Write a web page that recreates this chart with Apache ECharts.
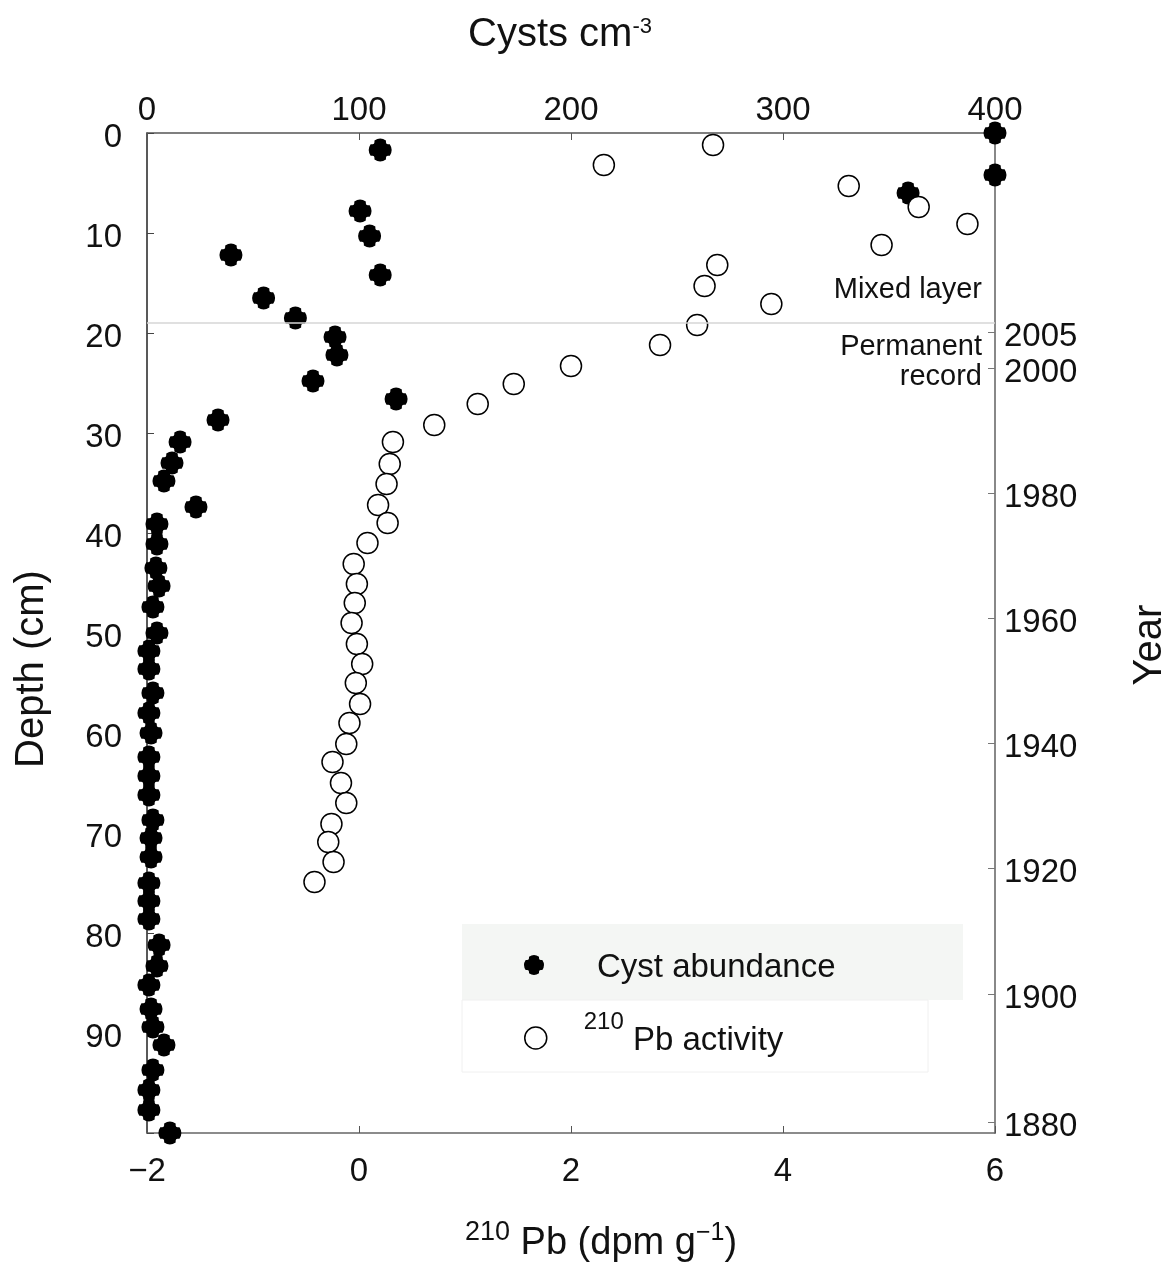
<!DOCTYPE html>
<html>
<head>
<meta charset="utf-8">
<script src="https://cdn.jsdelivr.net/npm/echarts@6/dist/echarts.min.js"></script>
<style>
  html, body { margin: 0; padding: 0; background: #fff; }
  #chart { width: 1168px; height: 1278px; }
</style>
</head>
<body>
<div id="chart"></div>
<script>
// cyst abundance (top axis, cysts cm-3) against depth (cm)
var cystDepth = [0, 1.7, 4.2, 6.0, 7.8, 10.3, 12.2, 14.2, 16.5, 18.5,
                 20.4, 22.2, 24.8, 26.6, 28.7, 30.9, 33.0, 34.8, 37.4, 39.1,
                 41.1, 43.5, 45.3, 47.4, 50.0, 51.8, 53.6, 56.0, 58.0, 60.0,
                 62.4, 64.3, 66.2, 68.7, 70.5, 72.4, 75.0, 76.8, 78.6, 81.2,
                 83.3, 85.2, 87.6, 89.4, 91.2, 93.7, 95.7, 97.7, 100];
var cystCount = [400, 110, 400, 359, 100.5, 105, 39.6, 110, 55, 70,
                 88.7, 89.6, 78.3, 117.5, 33.5, 15.6, 11.8, 8.0, 23.1, 4.7,
                 4.7, 4.2, 5.7, 2.8, 4.7, 0.9, 0.9, 2.8, 0.9, 1.9,
                 0.9, 0.9, 0.9, 2.8, 1.9, 1.9, 0.9, 0.9, 0.9, 5.7,
                 4.7, 0.9, 1.9, 2.8, 8.0, 2.8, 0.9, 0.9, 10.8];

// 210Pb activity (bottom axis, dpm g-1) against depth (cm)
var pbDepth = [1.2, 3.2, 5.3, 7.4, 9.1, 11.2, 13.2, 15.3, 17.1, 19.2,
               21.2, 23.3, 25.1, 27.1, 29.2, 30.9, 33.1, 35.1, 37.2, 39.0,
               41.0, 43.1, 45.1, 47.0, 49.0, 51.1, 53.1, 55.0, 57.1, 59.0,
               61.1, 62.9, 65.0, 67.0, 69.1, 70.9, 72.9, 74.9];
var pbActivity = [3.34, 2.31, 4.62, 5.28, 5.74, 4.93, 3.38, 3.26, 3.89, 3.19,
                  2.84, 2.0, 1.46, 1.12, 0.71, 0.32, 0.29, 0.26, 0.18, 0.27,
                  0.08, -0.05, -0.02, -0.04, -0.07, -0.02, 0.03, -0.03, 0.01, -0.09,
                  -0.12, -0.25, -0.17, -0.12, -0.26, -0.29, -0.24, -0.42];

// year scale on the right, placed at depth
var yearDepth = [19.9, 23.5, 36.0, 48.5, 61.0, 73.5, 86.1, 98.9];
var yearLabels = ['2005', '2000', '1980', '1960', '1940', '1920', '1900', '1880'];

var mixedLayerDepth = 19;

var FONT = 'Liberation Sans, Arial, sans-serif';
var crossPath = 'path://M26,10 Q50,-6 74,10 L74,18 Q74,26 82,26 L90,26 Q106,50 90,74 L82,74 Q74,74 74,82 ' +
                'L74,90 Q50,106 26,90 L26,82 Q26,74 18,74 L10,74 Q-6,50 10,26 L18,26 Q26,26 26,18 Z';

function pairs(xs, ys) {
    var out = [];
    for (var i = 0; i < xs.length; i++) {
        out.push([xs[i], ys[i]]);
    }
    return out;
}

var chart = echarts.init(document.getElementById('chart'));

var labelStyle = { color: '#111', fontSize: 33, fontFamily: FONT };
// tick labels on the vertical axes sit a few px below their ticks
var lowRich = { d: { fontSize: 33, color: '#111', fontFamily: FONT, padding: [10, 0, 0, 0] } };

var option = {
    animation: false,
    textStyle: { fontFamily: FONT },
    grid: { left: 147, right: 173, top: 133, bottom: 145, outerBoundsMode: 'none', containLabel: false },
    xAxis: [{
        // bottom: 210Pb
        type: 'value', position: 'bottom',
        min: -2, max: 6, interval: 2,
        name: '{s|210}{m| Pb (dpm g}{s2|\u22121}{m|)}',
        nameLocation: 'middle', nameGap: 88,
        nameTextStyle: {
            padding: [0, 0, 0, 60],
            rich: {
                m: { fontSize: 38, lineHeight: 42, color: '#111', fontFamily: FONT, verticalAlign: 'bottom' },
                s: { fontSize: 27, lineHeight: 30, color: '#111', fontFamily: FONT, verticalAlign: 'bottom', padding: [0, 0, 17, 0] },
                s2: { fontSize: 25, lineHeight: 28, color: '#111', fontFamily: FONT, verticalAlign: 'bottom', padding: [0, 0, 17, 0] }
            }
        },
        axisLine: { show: true, onZero: false, lineStyle: { color: '#666', width: 1.5 } },
        axisTick: { inside: true, length: 7, lineStyle: { color: '#555' } },
        axisLabel: Object.assign({ margin: 22, formatter: function (v) { return v < 0 ? '\u2212' + (-v) : v; } }, labelStyle),
        splitLine: { show: false }
    }, {
        // top: cysts
        type: 'value', position: 'top',
        min: 0, max: 400, interval: 100,
        name: '{m|Cysts cm}{s|-3}',
        nameLocation: 'middle', nameGap: 78,
        nameTextStyle: {
            padding: [0, 22, 0, 0],
            rich: {
                m: { fontSize: 40, lineHeight: 44, color: '#111', fontFamily: FONT, verticalAlign: 'bottom' },
                s: { fontSize: 22, lineHeight: 24, color: '#111', fontFamily: FONT, verticalAlign: 'bottom', padding: [0, 0, 17, 0] }
            }
        },
        axisLine: { show: true, onZero: false, lineStyle: { color: '#555', width: 1.5 } },
        axisTick: { inside: true, length: 7, lineStyle: { color: '#555' } },
        axisLabel: Object.assign({ margin: 6 }, labelStyle),
        splitLine: { show: false }
    }],
    yAxis: [{
        type: 'value', position: 'left', inverse: true,
        min: 0, max: 100, interval: 10,
        name: 'Depth (cm)',
        nameLocation: 'middle', nameGap: 95,
        nameTextStyle: { fontSize: 40, color: '#111', fontFamily: FONT, padding: [0, 72, 0, 0] },
        axisLine: { show: true, onZero: false, lineStyle: { color: '#222', width: 1.5 } },
        axisTick: { inside: true, length: 7, lineStyle: { color: '#444' } },
        axisLabel: Object.assign({
            margin: 25, rich: lowRich,
            formatter: function (v) { return v === 100 ? '' : '{d|' + v + '}'; }
        }, labelStyle),
        splitLine: { show: false }
    }, {
        type: 'value', position: 'right', inverse: true,
        min: 0, max: 100,
        name: 'Year',
        nameLocation: 'middle', nameGap: 135,
        nameTextStyle: { fontSize: 40, color: '#111', fontFamily: FONT, padding: [0, 24, 0, 0] },
        axisLine: { show: true, onZero: false, lineStyle: { color: '#888', width: 2 } },
        axisTick: { inside: true, length: 7, customValues: yearDepth, lineStyle: { color: '#777' } },
        axisLabel: Object.assign({
            margin: 9, rich: lowRich,
            customValues: yearDepth,
            formatter: function (v) {
                var i = yearDepth.indexOf(v);
                return i < 0 ? '' : '{d|' + yearLabels[i] + '}';
            }
        }, labelStyle),
        splitLine: { show: false }
    }],
    legend: [{
        data: ['Cyst abundance'],
        left: 524, top: 931, padding: 0,
        itemWidth: 20, itemHeight: 20,
        icon: crossPath,
        itemStyle: { color: '#000' },
        formatter: function () { return '{c|Cyst abundance}'; },
        textStyle: {
            rich: {
                c: { fontSize: 33, lineHeight: 38, color: '#111', fontFamily: FONT, verticalAlign: 'bottom', padding: [20, 0, 0, 48] }
            }
        }
    }, {
        data: ['210Pb activity'],
        left: 524, top: 1004, padding: 0,
        itemWidth: 22, itemHeight: 22,
        icon: 'circle',
        itemStyle: { color: '#fff', borderColor: '#000', borderWidth: 1.5 },
        formatter: function () { return '{s|210}{m| Pb activity}'; },
        textStyle: {
            rich: {
                m: { fontSize: 33, lineHeight: 38, color: '#111', fontFamily: FONT, verticalAlign: 'bottom', padding: [20, 0, 0, 0] },
                s: { fontSize: 24, lineHeight: 26, color: '#111', fontFamily: FONT, verticalAlign: 'bottom', padding: [0, 0, 23, 32] }
            }
        }
    }],
    graphic: [{
        type: 'rect', silent: true, z: -1,
        shape: { x: 462, y: 924, width: 501, height: 76 },
        style: { fill: '#f4f6f4' }
    }, {
        type: 'rect', silent: true, z: -1,
        shape: { x: 462, y: 1000, width: 466, height: 72 },
        style: { fill: '#fff', stroke: '#f0f0f0', lineWidth: 1 }
    }, {
        type: 'text', silent: true,
        x: 982, y: 290,
        style: { text: 'Mixed layer', fontSize: 29, fontFamily: FONT, fill: '#111', align: 'right', verticalAlign: 'middle' }
    }, {
        type: 'text', silent: true,
        x: 982, y: 362,
        style: { text: 'Permanent\nrecord', fontSize: 29, lineHeight: 30, fontFamily: FONT, fill: '#111', align: 'right', verticalAlign: 'middle' }
    }],
    series: [{
        name: 'Cyst abundance',
        type: 'scatter',
        xAxisIndex: 1, yAxisIndex: 0,
        clip: false,
        symbol: crossPath,
        symbolSize: 23,
        itemStyle: { color: '#000', opacity: 1 },
        data: pairs(cystCount, cystDepth)
    }, {
        name: '210Pb activity',
        type: 'scatter',
        xAxisIndex: 0, yAxisIndex: 0,
        clip: false,
        symbol: 'circle',
        symbolSize: 21,
        itemStyle: { color: '#fff', borderColor: '#000', borderWidth: 1.5, opacity: 1 },
        markLine: {
            silent: true,
            symbol: 'none',
            label: { show: false },
            lineStyle: { color: '#d6d6d6', type: 'solid', width: 1.5 },
            data: [{ yAxis: mixedLayerDepth }]
        },
        data: pairs(pbActivity, pbDepth)
    }]
};

chart.setOption(option);
</script>
</body>
</html>
